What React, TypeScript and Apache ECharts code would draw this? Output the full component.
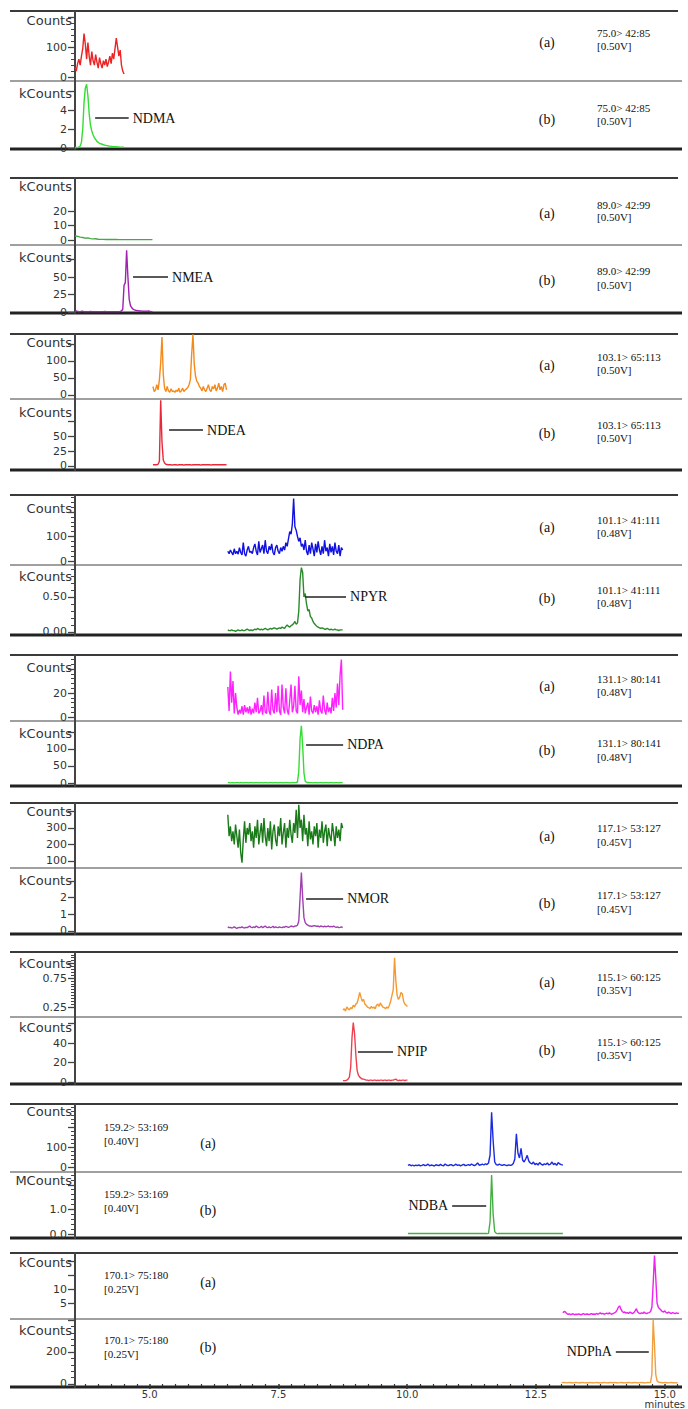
import React, { useEffect, useRef } from "react";
import * as echarts from "echarts";

// ---------- x axis (minutes) ----------
const X_MIN = 3.55;
const X_MAX = 15.25;
const xTickLabels = [5.0, 7.5, 10.0, 12.5, 15.0];
const xMinorStep = 0.25;
const xUnit = "minutes";

// ---------- per-group texts ----------
const compounds = ["NDMA", "NMEA", "NDEA", "NPYR", "NDPA", "NMOR", "NPIP", "NDBA", "NDPhA"];
const transitions = ["75.0> 42:85", "89.0> 42:99", "103.1> 65:113", "101.1> 41:111", "131.1> 80:141", "117.1> 53:127", "115.1> 60:125", "159.2> 53:169", "170.1> 75:180"];
const voltages = ["[0.50V]", "[0.50V]", "[0.50V]", "[0.48V]", "[0.48V]", "[0.45V]", "[0.35V]", "[0.40V]", "[0.25V]"];
const unitsA = ["Counts", "kCounts", "Counts", "Counts", "Counts", "Counts", "kCounts", "Counts", "kCounts"];
const unitsB = ["kCounts", "kCounts", "kCounts", "kCounts", "kCounts", "kCounts", "kCounts", "MCounts", "kCounts"];

// ---------- trace sampling (minutes) ----------
const traceStart = [3.55, 3.55, 5.06, 6.51, 6.51, 6.51, 8.74, 10.0, 13.0];
const traceStepA = [0.025, 0.05, 0.025, 0.025, 0.025, 0.025, 0.025, 0.03, 0.025];
const traceStepB = [0.025, 0.025, 0.025, 0.025, 0.025, 0.025, 0.025, 0.03, 0.025];

// ---------- series values ----------
const ndmaA = [33,20,45,60,40,70,95,145,110,60,115,70,40,85,55,40,75,50,30,65,45,30,55,40,60,35,50,70,45,80,60,95,130,100,70,90,40,20,10];
const ndmaB = [0.05,0.05,0.05,0.1,0.2,0.6,2.0,4.8,6.3,6.7,5.5,3.6,2.4,1.8,1.4,1.1,0.9,0.7,0.6,0.5,0.45,0.4,0.35,0.3,0.28,0.25,0.22,0.2,0.18,0.16,0.15,0.14,0.13,0.12,0.11,0.1,0.1,0.1,0.1];
const nmeaA = [3.0,2.5,2.0,1.8,1.3,1.5,1.0,0.8,0.9,0.6,0.5,0.5,0.4,0.4,0.4,0.35,0.35,0.3,0.3,0.3,0.3,0.3,0.3,0.3,0.3,0.3,0.3,0.3,0.3,0.3,0.3];
const nmeaB = [1,1.5,1,0.5,0.5,1,1,0.5,0.5,0.5,
  0.5,0.5,1,0.5,0.5,0.5,0.5,0.5,0.5,0.5,
  0.5,0.5,0.5,0.8,0.5,0.5,0.5,0.5,0.5,0.5,
  0.5,0.5,0.5,0.5,0.6,0.8,1.5,4,38,42,
  88,50,18,9,6,4,3,2.5,2,2,
  1.5,1.5,1.2,1,1,1,1,1.5,1,0.5,0.5];
const ndeaA = [25,10,15,30,15,45,95,170,60,20,
  10,25,12,8,18,10,12,8,14,10,
  20,8,12,20,10,15,18,22,30,45,
  120,178,90,55,40,35,25,20,12,25,
  15,10,20,30,15,10,25,18,30,12,
  20,35,15,25,10,30,35,15];
const ndeaB = [2,2,2,2,3,8,110,40,10,5,
  3,2.5,2,2,2,1.5,2,2,2,1.5,
  2,2,2,2,1.5,2,2,2,2,2,
  1.5,2,2,2,2,2,2,1.5,2,2,
  2,2,2,2,2,1.5,2,2,2,2,
  2,2,2,2,2,2,2,2];
const npyrA = [40,30,45,35,25,50,30,40,28,55,
  35,25,75,30,20,45,60,35,40,30,
  55,70,40,25,80,35,50,65,30,85,
  40,30,60,45,70,35,25,55,65,40,
  30,55,40,60,45,75,60,90,120,110,
  150,255,140,125,100,80,95,60,70,45,
  85,40,25,65,30,75,50,20,70,35,
  80,45,25,60,30,85,40,55,20,70,
  35,60,25,75,40,30,65,20,55,45];
const npyrB = [0.03,0.02,0.02,0.03,0.02,0.02,0.01,0.02,0.03,0.02,
  0.02,0.03,0.02,0.02,0.03,0.04,0.03,0.02,0.03,0.02,
  0.03,0.04,0.03,0.05,0.04,0.03,0.04,0.03,0.04,0.05,
  0.04,0.03,0.04,0.05,0.04,0.05,0.06,0.05,0.04,0.05,
  0.06,0.05,0.07,0.06,0.05,0.08,0.1,0.08,0.07,0.09,
  0.1,0.12,0.15,0.11,0.13,0.3,0.75,0.92,0.85,0.5,
  0.55,0.4,0.3,0.32,0.22,0.2,0.15,0.12,0.1,0.08,
  0.07,0.06,0.05,0.06,0.05,0.04,0.04,0.05,0.04,0.03,
  0.04,0.03,0.03,0.04,0.03,0.03,0.02,0.03,0.03,0.03];
const ndpaA = [25,5,38,12,30,3,20,8,2,6,
  3,9,2,10,4,8,3,9,2,7,
  3,12,4,16,3,5,10,2,18,4,
  3,21,5,2,23,6,3,20,4,26,
  5,2,27,8,3,24,6,2,14,27,
  4,9,26,5,3,34,10,22,4,15,
  3,8,12,2,17,5,3,10,4,9,
  2,14,5,3,18,6,2,12,4,8,
  3,16,5,20,8,28,10,35,48,6];
const ndpaB = [1,1,0.5,1,1,0.5,1,1,1,0.5,
  1,1,0.5,1,1,1,0.5,1,1,1,
  0.5,1,1,1,0.5,1,1,0.5,1,1,
  1,0.5,1,1,1,0.5,1,1,1,0.5,
  1,1,1,0.5,1,1,1,1,0.5,1,
  1,1,1,1.5,3,35,130,168,110,30,
  5,2,1.5,1,1,1,0.5,1,1,1,
  0.5,1,1,1,0.5,1,1,1,0.5,1,
  1,1,0.5,1,1,1,0.5,1,1,1];
const nmorA = [380,250,310,220,280,200,320,250,180,290,
  150,90,230,340,210,300,260,330,220,280,
  180,310,240,350,200,270,330,210,360,250,
  190,300,220,340,170,280,320,230,190,310,
  250,360,200,270,330,180,300,240,350,260,
  210,330,270,410,240,440,300,350,220,380,
  260,300,190,340,230,280,200,310,250,330,
  180,290,240,340,210,280,320,190,300,250,
  220,330,270,190,310,240,290,220,330,300];
const nmorB = [0.25,0.2,0.22,0.18,0.2,0.25,0.2,0.15,0.2,0.22,
  0.2,0.25,0.2,0.18,0.22,0.2,0.25,0.3,0.22,0.2,
  0.25,0.2,0.3,0.25,0.2,0.22,0.28,0.2,0.25,0.3,
  0.22,0.2,0.25,0.2,0.22,0.28,0.2,0.25,0.22,0.2,
  0.25,0.22,0.2,0.25,0.22,0.28,0.25,0.22,0.25,0.3,
  0.28,0.25,0.3,0.3,0.35,0.6,2.0,3.5,2.0,0.8,
  0.5,0.4,0.35,0.3,0.3,0.28,0.3,0.32,0.3,0.28,
  0.3,0.25,0.3,0.28,0.25,0.3,0.25,0.28,0.3,0.25,
  0.28,0.25,0.3,0.25,0.22,0.25,0.2,0.22,0.25,0.2];
const npipA = [0.2,0.22,0.18,0.25,0.22,0.2,0.24,0.22,0.28,0.25,
  0.3,0.32,0.4,0.5,0.42,0.35,0.38,0.3,0.28,0.25,
  0.24,0.22,0.26,0.23,0.25,0.22,0.28,0.3,0.26,0.32,
  0.28,0.25,0.24,0.22,0.25,0.23,0.28,0.35,0.45,0.55,
  1.1,0.7,0.45,0.38,0.42,0.5,0.48,0.35,0.3,0.28,0.26];
const npipB = [1.5,1.5,1.5,2,3,5,15,45,61,50,
  28,12,7,5,4,3,3,2.5,2,2,
  1.5,2,2,1.5,2,2,1.5,2,1.5,2,
  2,1.5,2,2,1.5,2,2,1.5,2,2,
  2.5,3,2,1.5,2,1.5,2,2,1.5,2,2];
const ndbaA = [8,12,6,10,5,9,7,11,6,8,
  12,7,9,14,6,10,8,5,11,9,
  7,13,8,6,15,9,7,10,12,6,
  9,14,8,11,6,10,13,7,9,12,
  8,15,10,7,12,20,9,11,14,10,
  16,12,20,60,273,130,25,12,9,14,
  10,8,12,9,7,11,8,10,18,40,
  166,70,45,93,35,25,40,58,30,20,
  15,25,12,18,10,22,14,9,16,12,
  20,10,14,25,12,18,8,22,15,12,10];
const ndbaB = [0.02,0.02,0.02,0.02,0.02,0.02,0.02,0.02,0.02,0.02,
  0.02,0.02,0.02,0.02,0.02,0.02,0.02,0.02,0.02,0.02,
  0.02,0.02,0.02,0.02,0.02,0.02,0.02,0.02,0.02,0.02,
  0.02,0.02,0.02,0.02,0.02,0.02,0.02,0.02,0.02,0.02,
  0.02,0.02,0.02,0.02,0.02,0.02,0.02,0.02,0.02,0.02,
  0.02,0.02,0.03,0.5,2.4,0.8,0.1,0.03,0.02,0.02,
  0.02,0.02,0.02,0.02,0.02,0.02,0.02,0.02,0.02,0.02,
  0.02,0.02,0.02,0.02,0.02,0.02,0.02,0.02,0.02,0.02,
  0.02,0.02,0.02,0.02,0.02,0.02,0.02,0.02,0.02,0.02,
  0.02,0.02,0.02,0.02,0.02,0.02,0.02,0.02,0.02,0.02,0.02];
const ndphaA = [1.5,2.0,1.8,1.2,1.0,1.1,0.9,1.0,1.2,0.8,
  1.0,0.9,1.1,1.0,0.8,1.0,1.2,0.9,1.0,1.1,
  0.9,1.0,1.2,1.0,1.1,0.9,1.3,1.0,1.2,1.5,
  1.1,1.3,1.0,1.2,1.4,1.1,1.5,1.2,1.0,1.3,
  1.5,1.8,2.5,3.5,4.0,2.8,2.0,1.6,1.8,1.4,
  1.6,1.3,1.8,1.5,1.2,1.6,2.2,3.0,1.8,1.4,
  1.2,1.5,1.3,1.8,1.4,1.2,1.5,1.6,2.0,3.5,
  12,22,14,5,3.5,3.0,2.5,2.0,1.8,2.2,
  1.6,1.4,1.8,1.5,1.2,1.6,1.4,1.2,1.5,1.3,1.4];
const ndphaB = [10,8,9,8,7,8,9,8,8,7,
  8,9,8,7,8,8,9,8,7,8,
  8,7,9,8,8,7,8,9,8,8,
  7,8,8,9,8,7,8,8,9,8,
  8,9,8,8,7,8,9,8,8,7,
  8,8,9,8,7,8,8,9,8,8,
  7,8,9,8,8,7,8,9,8,10,
  60,400,250,60,20,12,10,9,8,8,
  9,8,8,7,8,9,8,8,7,8,8];

const valuesA = [ndmaA, nmeaA, ndeaA, npyrA, ndpaA, nmorA, npipA, ndbaA, ndphaA];
const valuesB = [ndmaB, nmeaB, ndeaB, npyrB, ndpaB, nmorB, npipB, ndbaB, ndphaB];

// ---------- y axes ----------
const yMinA = [-13, -3.4, -11.8, -16, -3.3, 57.6, 0.078, -25, -0.7];
const yMaxA = [220, 42.8, 179, 269, 51.7, 451, 1.198, 315, 22.9];
const yMinB = [-0.1, -1.4, -6.7, -0.043, -8.8, -0.18, -2, -0.16, -19];
const yMaxB = [7.05, 95.7, 112, 0.957, 182, 3.77, 66.7, 2.52, 406];
const yTicksA = [[0,100,200],[0,10,20],[0,50,100,150],[0,100,200],[0,20,40],[100,200,300,400],[0.25,0.75,1.0],[0,100,200],[5,10,15,20]];
const yTickLabelsA = [[0,100],[0,10,20],[0,50,100],[0,100],[0,20],[100,200,300],[0.25,0.75],[0,100],[5,10]];
const yTicksB = [[0,2,4,6],[0,25,50,75],[0,25,50,75],[0,0.5],[0,50,100,150],[0,1,2,3],[0,20,40,60],[0,1,2],[0,200,400]];
const yTickLabelsB = [[0,2,4],[0,25,50],[0,25,50],[0,0.5],[0,50,100],[0,1,2],[0,20,40],[0,1],[0,200]];
const yDecimalsA = [0,0,0,0,0,0,2,0,0];
const yDecimalsB = [0,0,0,2,0,0,0,1,0];
const yMinorA = [20,0,0,20,4,0,0.05,20,0];
const yMinorB = [0,0,0,0.1,0,0,0,0.2,40];

// ---------- colours ----------
const colorsA = ["#ee2222", "#44aa44", "#f58a1a", "#1010e0", "#ff22ff", "#1a7a1a", "#f59a30", "#1a2ae0", "#ee22ee"];
const colorsB = ["#33dd33", "#a020b0", "#e8283a", "#2a8a2a", "#33dd33", "#a040b0", "#f04050", "#44b044", "#f0a040"];

// ---------- peak annotations (data coords: minutes, intensity) ----------
const leaderFrom = [3.94, 4.674, 5.372, 8.007, 8.027, 8.027, 9.03, 10.856, 14.05];
const leaderTo = [4.59, 5.352, 6.03, 8.80, 8.744, 8.744, 9.71, 11.515, 14.69];
const leaderLevel = [3.15, 50, 60, 0.5, 112, 1.92, 31, 1.16, 200];
const leaderLabelLeft = [false, false, false, false, false, false, false, true, true];

// ---------- layout (px) ----------
const groupTop = [11, 178, 334, 495, 655, 803, 952, 1104, 1253];
const groupMid = [81, 245, 399, 565, 721, 868, 1017, 1172, 1319];
const groupBot = [149, 313, 470, 635, 786, 934, 1084, 1238, 1387];
const nameOffA = [9, 8, 8, 13, 12, 8, 11, 7, 9];
const nameOffB = [12, 12, 13, 11, 12, 12, 10, 8, 11];
const tagAY = [42, 213, 365, 527, 686, 836, 982, 1143, 1282];
const tagBY = [119, 280, 433, 598, 750, 903, 1050, 1210, 1347];
const txtAY = [[33,46],[205,217],[357,370],[520,533],[679,692],[828,842],[977,990],[1127,1141],[1275,1289]];
const txtBY = [[108,121],[271,285],[425,438],[590,603],[743,757],[895,909],[1042,1055],[1194,1208],[1340,1354]];
const GRID_LEFT = 75;
const GRID_RIGHT = 9;

const SANS = "DejaVu Sans";
const SERIF = "Liberation Serif";

function minorValues(min: number, max: number, step: number, major: number[]) {
  const out: number[] = [];
  if (!step) return out;
  const lo = Math.max(min, major[0]);
  for (let k = Math.ceil(lo / step - 1e-9); k * step <= max + 1e-9; k++) {
    const v = +(k * step).toFixed(4);
    if (!major.some((m) => Math.abs(m - v) < step / 10)) out.push(v);
  }
  return out;
}

function buildOption() {
  const grid: any[] = [];
  const xAxis: any[] = [];
  const yAxis: any[] = [];
  const series: any[] = [];
  const graphic: any[] = [];
  const lastTick = xTickLabels[xTickLabels.length - 1];

  for (let g = 0; g < 9; g++) {
    for (let s = 0; s < 2; s++) {
      const isA = s === 0;
      const idx = g * 2 + s;
      const top = isA ? groupTop[g] : groupMid[g];
      const bottom = isA ? groupMid[g] : groupBot[g];
      const yMin = isA ? yMinA[g] : yMinB[g];
      const yMax = isA ? yMaxA[g] : yMaxB[g];
      const ticks = isA ? yTicksA[g] : yTicksB[g];
      const labels = isA ? yTickLabelsA[g] : yTickLabelsB[g];
      const dec = isA ? yDecimalsA[g] : yDecimalsB[g];
      const minor = isA ? yMinorA[g] : yMinorB[g];
      const vals = isA ? valuesA[g] : valuesB[g];
      const step = isA ? traceStepA[g] : traceStepB[g];
      const start = traceStart[g];

      grid.push({ left: GRID_LEFT, right: GRID_RIGHT, top, height: bottom - top, containLabel: false });

      const isBottom = idx === 17;
      xAxis.push({
        type: "value",
        gridIndex: idx,
        min: X_MIN,
        max: X_MAX,
        position: "bottom",
        show: isBottom,
        axisLine: { show: false },
        splitLine: { show: false },
        axisTick: isBottom
          ? { show: true, customValues: xTickLabels, length: 5, lineStyle: { color: "#333", width: 1.5 } }
          : { show: false },
        axisLabel: isBottom
          ? {
              show: true,
              customValues: xTickLabels,
              formatter: (v: number) => (Math.abs(v - lastTick) < 1e-6 ? `${v.toFixed(1)}\n${xUnit}` : v.toFixed(1)),
              fontFamily: SANS,
              fontSize: 10,
              lineHeight: 10,
              color: "#333",
              margin: 2,
            }
          : { show: false },
      });

      yAxis.push({
        type: "value",
        gridIndex: idx,
        min: yMin,
        max: yMax,
        position: "left",
        axisLine: { show: true, lineStyle: { color: "#444", width: 2 } },
        axisTick: { show: true, customValues: ticks, length: 7, lineStyle: { color: "#444", width: 1.3 } },
        axisLabel: {
          show: true,
          customValues: labels,
          formatter: (v: number) => v.toFixed(dec),
          fontFamily: SANS,
          fontSize: 11,
          color: "#333",
          margin: 8,
        },
        splitLine: { show: false },
        name: isA ? unitsA[g] : unitsB[g],
        nameLocation: "end",
        nameGap: -(isA ? nameOffA[g] : nameOffB[g]),
        nameTextStyle: {
          align: "right",
          verticalAlign: "middle",
          fontFamily: SANS,
          fontSize: 13,
          color: "#333",
          padding: [0, 3, 0, 0],
        },
      });
      yAxis.push({
        type: "value",
        gridIndex: idx,
        min: yMin,
        max: yMax,
        position: "left",
        axisLine: { show: false },
        axisTick: {
          show: true,
          customValues: minorValues(yMin, yMax, minor, ticks),
          length: 4,
          lineStyle: { color: "#444", width: 1 },
        },
        axisLabel: { show: false },
        splitLine: { show: false },
      });

      const data = vals.map((v, i) => [+(start + i * step).toFixed(4), v]);
      const ser: any = {
        type: "line",
        xAxisIndex: idx,
        yAxisIndex: idx * 2,
        data,
        showSymbol: false,
        symbol: "none",
        silent: true,
        clip: true,
        lineStyle: { color: isA ? colorsA[g] : colorsB[g], width: 1.4 },
        z: 3,
      };
      if (!isA) {
        const a = { coord: [leaderFrom[g], leaderLevel[g]] };
        const b = { coord: [leaderTo[g], leaderLevel[g]] };
        ser.markLine = {
          silent: true,
          symbol: ["none", "none"],
          lineStyle: { color: "#222", width: 1.5, type: "solid" },
          label: {
            show: true,
            position: "end",
            distance: 4,
            formatter: compounds[g],
            fontFamily: SERIF,
            fontSize: 14,
            color: "#111",
          },
          emphasis: { disabled: true },
          data: [leaderLabelLeft[g] ? [b, a] : [a, b]],
        };
      }
      series.push(ser);
    }

    // separator lines
    graphic.push({ type: "line", silent: true, shape: { x1: 10, y1: groupTop[g], x2: 678, y2: groupTop[g] }, style: { stroke: "#3a3a3a", lineWidth: 2 } });
    graphic.push({ type: "line", silent: true, shape: { x1: 10, y1: groupMid[g], x2: 682, y2: groupMid[g] }, style: { stroke: "#a0a0a0", lineWidth: 2 } });
    graphic.push({ type: "line", silent: true, shape: { x1: 10, y1: groupBot[g], x2: 682, y2: groupBot[g] }, style: { stroke: "#222", lineWidth: 3 } });

    // (a)/(b) tags and transition texts
    const leftSide = g >= 7;
    const tagX = leftSide ? 208 : 547;
    const txtX = leftSide ? 104 : 597;
    const tagFont = `14px "${SERIF}"`;
    const txtFont = `11px "${SERIF}"`;
    graphic.push({ type: "text", silent: true, x: tagX, y: tagAY[g], style: { text: "(a)", font: tagFont, fill: "#111", textAlign: "center", textVerticalAlign: "middle" } });
    graphic.push({ type: "text", silent: true, x: tagX, y: tagBY[g], style: { text: "(b)", font: tagFont, fill: "#111", textAlign: "center", textVerticalAlign: "middle" } });
    graphic.push({ type: "text", silent: true, x: txtX, y: txtAY[g][0], style: { text: transitions[g], font: txtFont, fill: "#111", textAlign: "left", textVerticalAlign: "middle" } });
    graphic.push({ type: "text", silent: true, x: txtX, y: txtAY[g][1], style: { text: voltages[g], font: txtFont, fill: "#111", textAlign: "left", textVerticalAlign: "middle" } });
    graphic.push({ type: "text", silent: true, x: txtX, y: txtBY[g][0], style: { text: transitions[g], font: txtFont, fill: "#111", textAlign: "left", textVerticalAlign: "middle" } });
    graphic.push({ type: "text", silent: true, x: txtX, y: txtBY[g][1], style: { text: voltages[g], font: txtFont, fill: "#111", textAlign: "left", textVerticalAlign: "middle" } });
  }

  // minor ticks of the time axis
  const xMinor: number[] = [];
  for (let k = Math.ceil(X_MIN / xMinorStep); k * xMinorStep <= X_MAX + 1e-9; k++) {
    const v = k * xMinorStep;
    if (!xTickLabels.some((m) => Math.abs(m - v) < 1e-6)) xMinor.push(v);
  }
  xAxis.push({
    type: "value",
    gridIndex: 17,
    min: X_MIN,
    max: X_MAX,
    position: "bottom",
    axisLine: { show: false },
    splitLine: { show: false },
    axisTick: { show: true, customValues: xMinor, length: 2, lineStyle: { color: "#333", width: 1.2 } },
    axisLabel: { show: false },
  });

  return {
    animation: false,
    backgroundColor: "#ffffff",
    grid,
    xAxis,
    yAxis,
    series,
    graphic,
  };
}

export default function App() {
  const ref = useRef<HTMLDivElement>(null);
  useEffect(() => {
    if (!ref.current) return;
    const chart = echarts.init(ref.current, null, { renderer: "svg" });
    chart.setOption(buildOption() as any);
    return () => chart.dispose();
  }, []);
  return (
    <div
      ref={ref}
      style={{ position: "absolute", left: 0, top: 0, width: 688, height: 1409, background: "#fff" }}
    />
  );
}
